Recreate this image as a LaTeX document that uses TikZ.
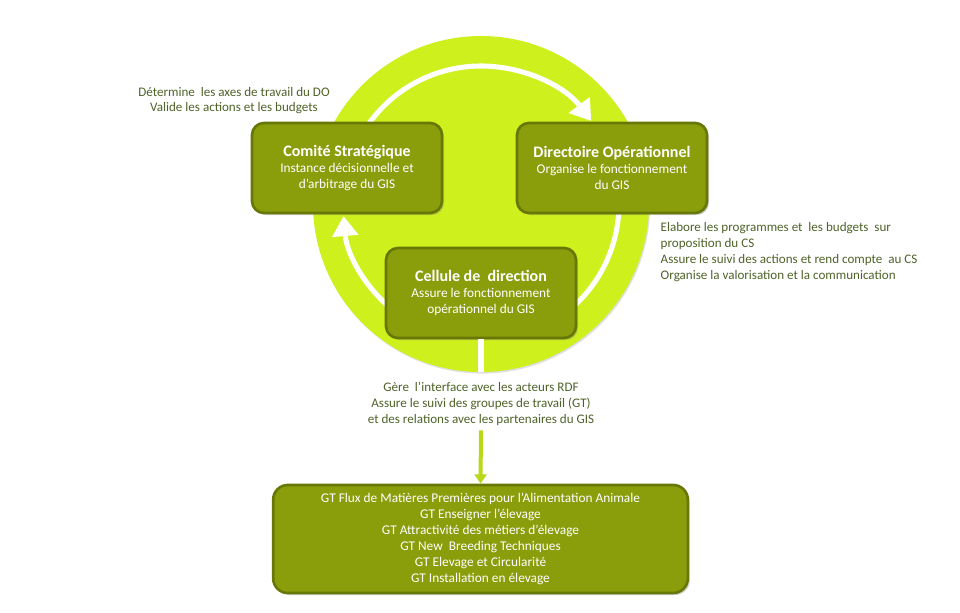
\documentclass[tikz,border=0pt]{standalone}
\usepackage{fontspec}
\setmainfont{Carlito}
\usetikzlibrary{arrows.meta,shadows}

\definecolor{citron}{RGB}{206,240,28}
\definecolor{olive}{RGB}{138,158,12}
\definecolor{olivefonce}{RGB}{104,120,6}
\definecolor{textolive}{RGB}{79,98,40}

\begin{document}
\begin{tikzpicture}[x=0.75pt,y=0.75pt,
  boite/.style={draw=olivefonce, line width=2pt, fill=olive, rounded corners=9pt,
    text=white, align=center, minimum width=142.5pt, minimum height=67.5pt, inner sep=3pt,
    drop shadow={opacity=0.35, shadow xshift=1.5pt, shadow yshift=-1.5pt},
    font=\fontsize{10}{12}\selectfont},
  titre/.style={font=\fontsize{12}{14}\selectfont\bfseries},
  note/.style={text=textolive, font=\fontsize{9.8}{12}\selectfont},
  fleche/.style={white, line width=3.8pt}]

\useasboundingbox (0,0) rectangle (960,612);

% Grand cercle
\coordinate (centre) at (481,408);
\fill[citron, drop shadow={opacity=0.25, shadow xshift=0.8pt, shadow yshift=-1.2pt}]
  (centre) circle [radius=168];

% Fleches blanches
\draw[fleche, -{Triangle[width=19pt,length=15pt]}]
  ([shift={(150:138)}]centre) arc [start angle=150, end angle=37, radius=138];
\draw[fleche]
  ([shift={(10:138)}]centre) arc [start angle=10, end angle=-55, radius=138];
\draw[fleche, -{Triangle[width=19pt,length=15pt]}]
  ([shift={(235:138)}]centre) arc [start angle=235, end angle=185, radius=138];

% Boites
\node[boite] (cs) at (347,444)
  {{\fontsize{12}{15}\selectfont\bfseries Comité Stratégique}\\
   Instance décisionnelle et\\ d’arbitrage du GIS};
\node[boite] (do) at (612,444)
  {{\fontsize{12}{15}\selectfont\bfseries Directoire Opérationnel}\\
   Organise le fonctionnement\\ du GIS};
\node[boite] (cd) at (481,319)
  {{\fontsize{12}{15}\selectfont\bfseries Cellule de\ \ direction}\\
   Assure le fonctionnement\\ opérationnel du GIS};

% Trait sous la cellule
\coordinate (bas) at (481,240);
\draw[fleche] (cd.south) -- (bas);

% Textes
\node[note, align=center, font=\fontsize{9.8}{11.3}\selectfont] (txtcs) at (234,511)
  {Détermine\ \ les axes de travail du DO\\ Valide les actions et les budgets};
\node[note, align=left, anchor=north west] (txtdo) at (656,394)
  {Elabore les programmes et\ \ les budgets\ \ sur\\ proposition du CS\\
   Assure le suivi des actions et rend compte\ \ au CS\\
   Organise la valorisation et la communication};
\node[note, align=center] (txtcd) at (481,208)
  {Gère\ \ l’interface avec les acteurs RDF\\
   Assure le suivi des groupes de travail (GT)\\
   et des relations avec les partenaires du GIS};

% Groupes de travail
\node[boite, minimum width=311pt, minimum height=81pt, rounded corners=11pt] (gt) at (480.5,73)
  {GT Flux de Matières Premières pour l’Alimentation Animale\\
   GT Enseigner l’élevage\\
   GT Attractivité des métiers d’élevage\\
   GT New\ \ Breeding Techniques\\
   GT Elevage et Circularité\\
   GT Installation en élevage};

\draw[citron!90!black, line width=3pt, -{Triangle[width=9pt,length=7pt]}]
  (txtcd.south) -- (gt.north);

\end{tikzpicture}
\end{document}
